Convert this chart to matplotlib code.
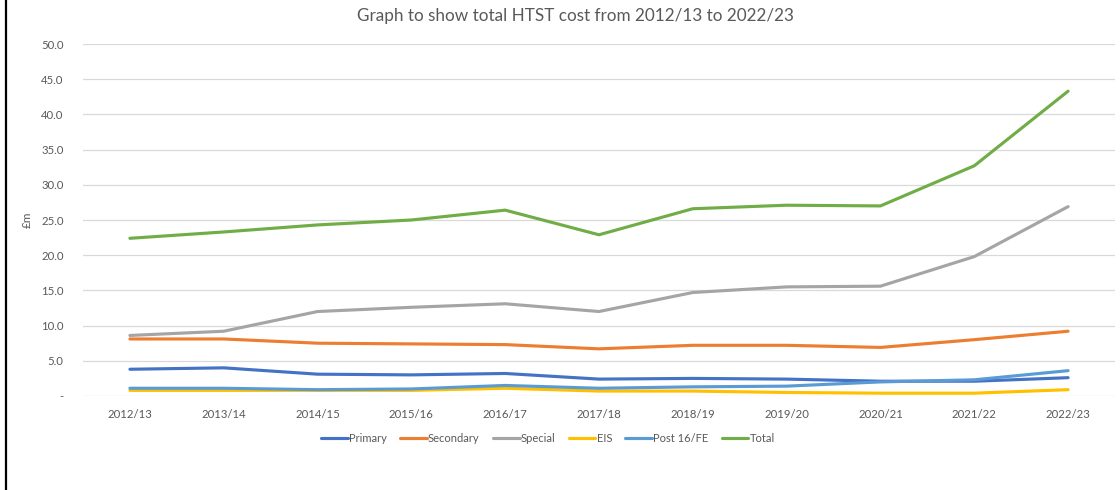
import matplotlib
matplotlib.use("Agg")
import matplotlib.pyplot as plt
from matplotlib.lines import Line2D

plt.rcParams['font.family'] = ['Lato', 'DejaVu Sans']

# DATA
years = ["2012/13", "2013/14", "2014/15", "2015/16", "2016/17", "2017/18",
         "2018/19", "2019/20", "2020/21", "2021/22", "2022/23"]
primary = [3.8, 4.0, 3.1, 3.0, 3.2, 2.4, 2.5, 2.4, 2.1, 2.1, 2.6]
secondary = [8.1, 8.1, 7.5, 7.4, 7.3, 6.7, 7.2, 7.2, 6.9, 8.0, 9.2]
special = [8.6, 9.2, 12.0, 12.6, 13.1, 12.0, 14.7, 15.5, 15.6, 19.8, 26.9]
eis = [0.8, 0.8, 0.8, 0.8, 1.1, 0.7, 0.7, 0.5, 0.4, 0.4, 0.9]
post16 = [1.1, 1.1, 0.9, 1.0, 1.5, 1.1, 1.3, 1.4, 2.0, 2.3, 3.6]
total = [22.4, 23.3, 24.3, 25.0, 26.4, 22.9, 26.6, 27.1, 27.0, 32.7, 43.3]

series = [("Primary", primary, "#4472C4"), ("Secondary", secondary, "#ED7D31"),
          ("Special", special, "#A5A5A5"), ("EIS", eis, "#FFC000"),
          ("Post 16/FE", post16, "#5B9BD5"), ("Total", total, "#70AD47")]

fig = plt.figure(figsize=(11.2, 4.9), dpi=100)
ax = fig.add_axes([83/1120, (490-396)/490, (1115-83)/1120, (396-44)/490])

x = range(len(years))
for name, vals, col in series:
    ax.plot(x, vals, color=col, lw=2.25, label=name, solid_capstyle='round')

ax.set_xlim(-0.5, len(years) - 0.5)
ax.set_ylim(0, 50)
ax.set_yticks(range(0, 51, 5))
ax.set_yticklabels(["-"] + [f"{v:.1f}" for v in range(5, 51, 5)])
ax.set_xticks(list(x))
ax.set_xticklabels(years)
ax.grid(axis='y', color='#D9D9D9', lw=0.9)
ax.set_axisbelow(True)
for s in ax.spines.values(): s.set_visible(False)
ax.tick_params(length=0, colors='#595959', labelsize=8.2, pad=9)
ax.tick_params(axis='y', pad=14)

ax.set_ylabel("£m", color='#595959', fontsize=8.5)
ax.yaxis.set_label_coords(-0.049, 0.5)
fig.text(575/1120, 1 - 16/490, "Graph to show total HTST cost from 2012/13 to 2022/23",
         ha='center', va='center', fontsize=12.3, color='#595959')

fig.legend(loc='center', bbox_to_anchor=(548/1120, 1 - 438/490), ncol=6, frameon=False,
           fontsize=8, labelcolor='#595959', handlelength=2.4, handletextpad=0.1,
           columnspacing=1.2)

fig.add_artist(Line2D([6/1120, 6/1120], [0, 1], transform=fig.transFigure, color='black', lw=1.6))

fig.savefig("out.png", dpi=100, facecolor='white')
